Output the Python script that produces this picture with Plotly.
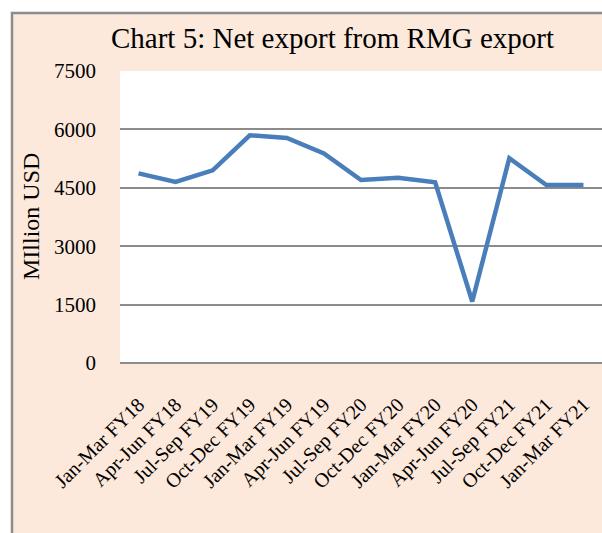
import plotly.graph_objects as go

categories = ["Jan-Mar FY18", "Apr-Jun FY18", "Jul-Sep FY19", "Oct-Dec FY19",
              "Jan-Mar FY19", "Apr-Jun FY19", "Jul-Sep FY20", "Oct-Dec FY20",
              "Jan-Mar FY20", "Apr-Jun FY20", "Jul-Sep FY21", "Oct-Dec FY21",
              "Jan-Mar FY21"]
net_export = [4870, 4650, 4950, 5850, 5780, 5380, 4700, 4760, 4640, 1580, 5260, 4570, 4570]
y_ticks = [0, 1500, 3000, 4500, 6000, 7500]

W, H = 602, 533
L, R, T, B = 120, 0, 71, 170
pw, ph = W - L - R, H - T - B

def px_x(p):
    return (p - L) / pw

def px_y(p):
    return (H - B - p) / ph

SERIF = "Liberation Serif, Times New Roman, serif"

fig = go.Figure()
fig.add_trace(go.Scatter(
    x=categories, y=net_export, mode="lines",
    line=dict(color="#4A7EBB", width=4.5),
    hoverinfo="x+y", showlegend=False,
))

shapes = [
    dict(type="rect", xref="paper", yref="paper", layer="below",
         x0=px_x(12), x1=px_x(620), y0=px_y(560), y1=px_y(13),
         fillcolor="#FDE9DB", line=dict(color="#8C8C8C", width=2.5)),
    dict(type="rect", xref="paper", yref="paper", layer="below",
         x0=0, x1=1, y0=0, y1=1, fillcolor="white", line=dict(width=0)),
]

fig.update_layout(
    width=W, height=H,
    margin=dict(l=L, r=R, t=T, b=B, pad=0),
    paper_bgcolor="white",
    plot_bgcolor="rgba(0,0,0,0)",
    shapes=shapes,
    font=dict(family=SERIF, color="black", size=20),
    annotations=[
        dict(text="Chart 5: Net export from RMG export", xref="paper", yref="paper",
             x=px_x(332), y=px_y(38), xanchor="center", yanchor="middle",
             showarrow=False, font=dict(family=SERIF, size=29, color="black")),
        dict(text="MIllion USD", xref="paper", yref="paper",
             x=px_x(31), y=px_y(217), xanchor="center", yanchor="middle",
             textangle=-90, showarrow=False,
             font=dict(family=SERIF, size=24, color="black")),
    ],
    xaxis=dict(
        type="category", range=[-0.5, len(categories) - 0.5],
        tickangle=-45, showgrid=False, zeroline=False, showline=False,
        ticks="", ticklabelstandoff=25,
        tickfont=dict(family=SERIF, size=20, color="black"),
    ),
    yaxis=dict(
        range=[0, 7500], tickvals=y_ticks, ticktext=[str(v) for v in y_ticks],
        showgrid=True, gridcolor="#8C8C8C", gridwidth=2,
        zeroline=True, zerolinecolor="#8C8C8C", zerolinewidth=2,
        showline=False, ticks="", ticklabelstandoff=23,
        tickfont=dict(family=SERIF, size=21, color="black"),
    ),
)

fig.write_html(
    "out.html",
    config={"displayModeBar": False},
    post_script="document.body.style.margin='0px';document.body.style.overflow='hidden';",
)
